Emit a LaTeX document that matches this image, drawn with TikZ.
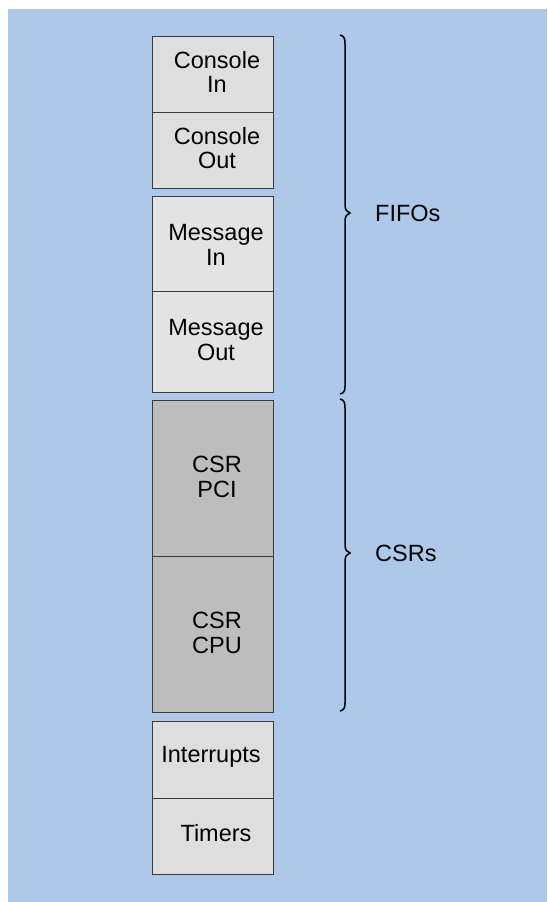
\documentclass[tikz,border=0pt]{standalone}
\usepackage{fontspec}
\setmainfont{Liberation Sans}
\definecolor{bgblue}{HTML}{ADC8E8}
\definecolor{lightbox}{HTML}{DEDEDE}
\definecolor{lightbox2}{HTML}{E3E3E3}
\definecolor{darkbox}{HTML}{BDBDBD}
\definecolor{edge}{HTML}{3A3A3A}
\begin{document}
\begin{tikzpicture}[x=1pt,y=-1pt,
  cell/.style={draw=edge,line width=1pt,minimum width=121pt,inner sep=0pt,outer sep=0pt,anchor=north west},
  txt/.style={font=\fontsize{23.5}{24.5}\selectfont,align=center,inner sep=0pt},
  bracepath/.style={line width=1.5pt,draw=black}]
\useasboundingbox (0,0) rectangle (547,902);
\fill[white] (0,0) rectangle (547,902);
\fill[bgblue] (8,9) rectangle (547,902);
% boxes
\node[cell,fill=lightbox,minimum height=76pt] (ci) at (152,36) {};
\node[cell,fill=lightbox,minimum height=76pt] (co) at (152,112) {};
\node[cell,fill=lightbox2,minimum height=95pt] (mi) at (152,196) {};
\node[cell,fill=lightbox2,minimum height=101pt] (mo) at (152,291) {};
\node[cell,fill=darkbox,minimum height=156pt] (pci) at (152,400) {};
\node[cell,fill=darkbox,minimum height=156pt] (cpu) at (152,556) {};
\node[cell,fill=lightbox,minimum height=77pt] (irq) at (152,721) {};
\node[cell,fill=lightbox,minimum height=76pt] (tim) at (152,798) {};
% labels
\node[txt] (tci) at (217,72) {Console\\In};
\node[txt] (tco) at (217,148) {Console\\Out};
\node[txt] (tmi) at (216,245) {Message\\In};
\node[txt] (tmo) at (216,340) {Message\\Out};
\node[txt] (tpci) at (217,477) {CSR\\PCI};
\node[txt] (tcpu) at (217,633) {CSR\\CPU};
\node[txt] (tirq) at (211,757) {Interrupts};
\node[txt] (ttim) at (216,833) {Timers};
% braces
\coordinate (b1top) at (340,35);
\coordinate (b1tip) at (350,213);
\coordinate (b1bot) at (340,394);
\draw[bracepath] (b1top) .. controls (344,36) and (345,38) .. (345,44) -- (345,205)
  .. controls (345,210) and (347,212) .. (b1tip)
  .. controls (347,214) and (345,216) .. (345,221) -- (345,386)
  .. controls (345,391) and (344,393) .. (b1bot);
\coordinate (b2top) at (340,399);
\coordinate (b2tip) at (350,553);
\coordinate (b2bot) at (340,711);
\draw[bracepath] (b2top) .. controls (344,400) and (345,402) .. (345,408) -- (345,545)
  .. controls (345,550) and (347,552) .. (b2tip)
  .. controls (347,554) and (345,556) .. (345,561) -- (345,703)
  .. controls (345,708) and (344,710) .. (b2bot);
\node[txt,anchor=west] (fifo) at (375,213) {FIFOs};
\node[txt,anchor=west] (csrs) at (375,553) {CSRs};
\end{tikzpicture}
\end{document}
